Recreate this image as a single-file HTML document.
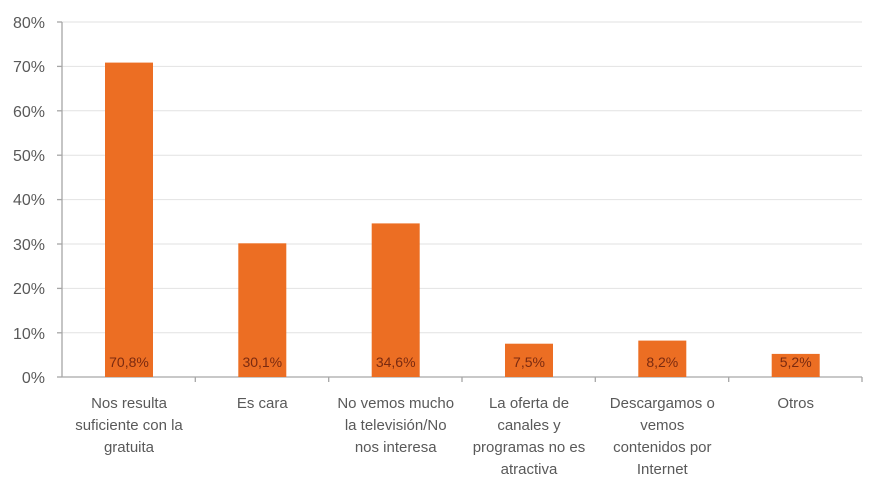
<!DOCTYPE html>
<html><head><style>body{margin:0;background:#fff}</style></head><body>
<svg width="880" height="495" xmlns="http://www.w3.org/2000/svg" font-family="Liberation Sans, sans-serif">
<rect width="880" height="495" fill="#fff"/>
<g stroke="#e2e2e2" stroke-width="1">
<line x1="62" x2="862" y1="22" y2="22"/><line x1="62" x2="862" y1="66.4" y2="66.4"/>
<line x1="62" x2="862" y1="110.8" y2="110.8"/><line x1="62" x2="862" y1="155.2" y2="155.2"/>
<line x1="62" x2="862" y1="199.6" y2="199.6"/><line x1="62" x2="862" y1="244" y2="244"/>
<line x1="62" x2="862" y1="288.4" y2="288.4"/><line x1="62" x2="862" y1="332.8" y2="332.8"/>
</g>
<g stroke="#a6a6a6" stroke-width="1.3">
<line x1="62" x2="62" y1="22" y2="377"/><line x1="62" x2="862" y1="377" y2="377"/>
<line x1="57" x2="62" y1="22" y2="22"/><line x1="57" x2="62" y1="66.4" y2="66.4"/><line x1="57" x2="62" y1="110.8" y2="110.8"/><line x1="57" x2="62" y1="155.2" y2="155.2"/><line x1="57" x2="62" y1="199.6" y2="199.6"/><line x1="57" x2="62" y1="244" y2="244"/><line x1="57" x2="62" y1="288.4" y2="288.4"/><line x1="57" x2="62" y1="332.8" y2="332.8"/><line x1="57" x2="62" y1="377" y2="377"/>
<line x1="195.3" x2="195.3" y1="377" y2="382"/><line x1="328.7" x2="328.7" y1="377" y2="382"/><line x1="462" x2="462" y1="377" y2="382"/><line x1="595.3" x2="595.3" y1="377" y2="382"/><line x1="728.7" x2="728.7" y1="377" y2="382"/><line x1="862" x2="862" y1="377" y2="382"/>
</g>
<g font-size="16" fill="#595959" text-anchor="end">
<text x="45" y="28">80%</text><text x="45" y="72">70%</text><text x="45" y="117">60%</text><text x="45" y="161">50%</text><text x="45" y="205">40%</text><text x="45" y="250">30%</text><text x="45" y="294">20%</text><text x="45" y="339">10%</text><text x="45" y="383">0%</text>
</g>
<g fill="#ec6e23">
<rect x="105" y="62.6" width="48" height="314.4"/>
<rect x="238.3" y="243.3" width="48" height="133.7"/>
<rect x="371.7" y="223.4" width="48" height="153.6"/>
<rect x="505" y="343.7" width="48" height="33.3"/>
<rect x="638.3" y="340.6" width="48" height="36.4"/>
<rect x="771.7" y="353.9" width="48" height="23.1"/>
</g>
<g font-size="14" fill="#7a2a10" text-anchor="middle">
<text x="129" y="367">70,8%</text><text x="262.3" y="367">30,1%</text><text x="395.7" y="367">34,6%</text><text x="529" y="367">7,5%</text><text x="662.3" y="367">8,2%</text><text x="795.7" y="367">5,2%</text>
</g>
<g font-size="15" fill="#595959" text-anchor="middle">
<text x="129" y="408">Nos resulta</text><text x="129" y="430">suficiente con la</text><text x="129" y="452">gratuita</text>
<text x="262.3" y="408">Es cara</text>
<text x="395.7" y="408">No vemos mucho</text><text x="395.7" y="430">la televisión/No</text><text x="395.7" y="452">nos interesa</text>
<text x="529" y="408">La oferta de</text><text x="529" y="430">canales y</text><text x="529" y="452">programas no es</text><text x="529" y="474">atractiva</text>
<text x="662.3" y="408">Descargamos o</text><text x="662.3" y="430">vemos</text><text x="662.3" y="452">contenidos por</text><text x="662.3" y="474">Internet</text>
<text x="795.7" y="408">Otros</text>
</g>
</svg>
</body></html>
